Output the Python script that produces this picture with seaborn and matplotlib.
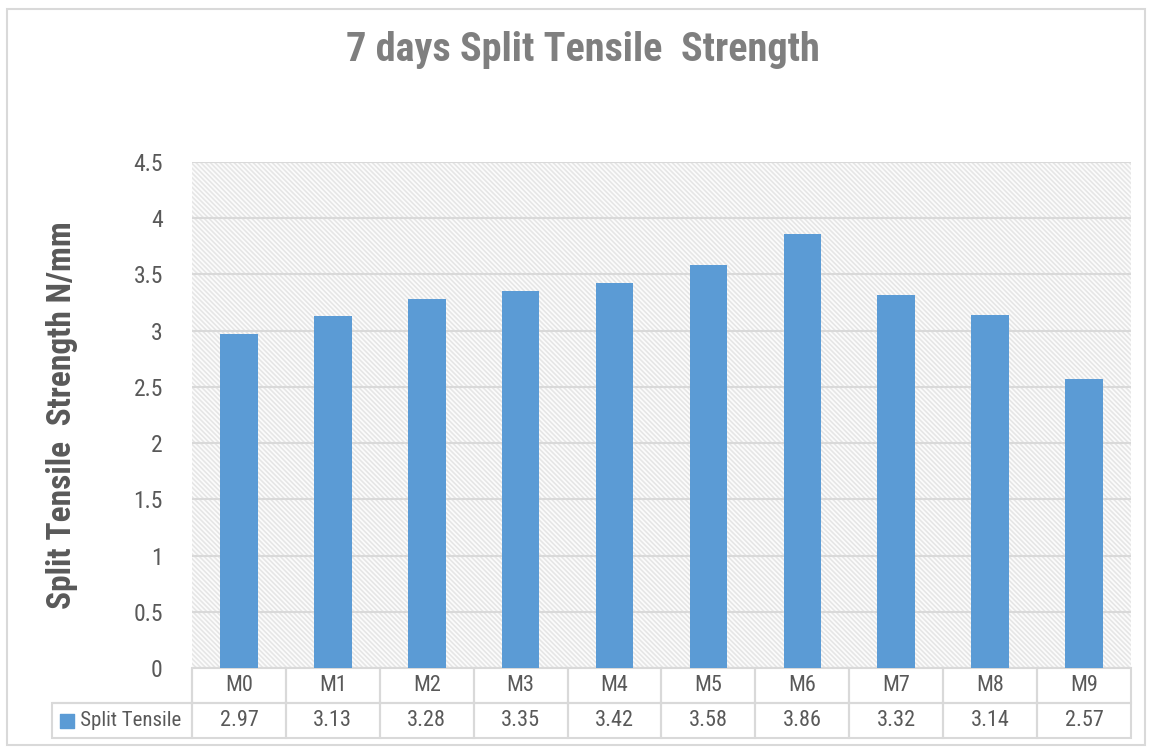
import matplotlib
matplotlib.use("Agg")
import matplotlib.pyplot as plt
from matplotlib import font_manager
from matplotlib.patches import Rectangle
import seaborn as sns

MIXES = ["M0", "M1", "M2", "M3", "M4", "M5", "M6", "M7", "M8", "M9"]
SPLIT_TENSILE = [2.97, 3.13, 3.28, 3.35, 3.42, 3.58, 3.86, 3.32, 3.14, 2.57]
Y_TICKS = [0, 0.5, 1, 1.5, 2, 2.5, 3, 3.5, 4, 4.5]
SERIES_NAME = "Split Tensile"

BAR_BLUE = "#5B9BD5"
TEXT_GRAY = "#595959"
TITLE_GRAY = "#7F7F7F"
LINE_GRAY = "#D9D9D9"

available = {f.name for f in font_manager.fontManager.ttflist}
FONT = next(
    (f for f in ["Liberation Sans Narrow", "Roboto Condensed", "Open Sans", "Liberation Sans"]
     if f in available),
    "DejaVu Sans",
)

sns.set_style("white")
plt.rcParams["font.family"] = [FONT, "DejaVu Sans"]
plt.rcParams["hatch.color"] = "#E6E6E6"
plt.rcParams["hatch.linewidth"] = 1.2

fig = plt.figure(figsize=(11.51, 7.49), dpi=100)
ax = fig.add_axes([192 / 1151, 1 - 668 / 749, 939 / 1151, 506 / 749])

# hatched plot area
ax.add_patch(Rectangle((0, 0), 1, 1, transform=ax.transAxes, facecolor="#FCFCFC",
                       edgecolor="#E6E6E6", hatch="\\\\\\\\\\\\\\", lw=0, zorder=0))

sns.barplot(x=MIXES, y=SPLIT_TENSILE, color=BAR_BLUE, saturation=1, width=0.4,
            edgecolor="none", linewidth=0, ax=ax, zorder=3)

ax.set_ylim(0, 4.5)
ax.set_xlim(-0.5, len(MIXES) - 0.5)
ax.set_yticks(Y_TICKS)
ax.set_yticklabels([f"{t:g}" for t in Y_TICKS])
ax.yaxis.grid(True, color=LINE_GRAY, lw=1.5)
for line in ax.get_ygridlines():
    line.set_zorder(1)
ax.tick_params(axis="y", length=0, pad=21, labelsize=17, labelcolor=TEXT_GRAY)
ax.tick_params(axis="x", bottom=False, labelbottom=False)
for s in ax.spines.values():
    s.set_visible(False)
ax.set_xlabel("")
ax.set_ylabel("Split Tensile  Strength N/mm", fontsize=24, fontweight="bold",
              color=TEXT_GRAY)
ax.yaxis.set_label_coords(-0.1216, 0.5)

fig.text(583 / 1151, 1 - 50 / 749, "7 days Split Tensile  Strength", fontsize=29,
         fontweight="bold", color=TITLE_GRAY, ha="center", va="center")

# data table under the axis
label_w = 140 / 939
row_h = 35 / 506
table = ax.table(
    cellText=[[""] + MIXES, ["   " + SERIES_NAME] + [f"{v:.2f}" for v in SPLIT_TENSILE]],
    cellLoc="center",
    colWidths=[label_w] + [1 / len(MIXES)] * len(MIXES),
    bbox=[-label_w, -2 * row_h, 1 + label_w, 2 * row_h],
)
table.auto_set_font_size(False)
for (r, c), cell in table.get_celld().items():
    cell.set_edgecolor(LINE_GRAY)
    cell.set_linewidth(1.5)
    cell.get_text().set_color(TEXT_GRAY)
    cell.get_text().set_fontsize(16)
    cell.set_facecolor("none")
    if (r, c) == (0, 0):
        cell.visible_edges = "BR"
    if (r, c) == (1, 0):
        cell.get_text().set_ha("left")
        cell.get_text().set_fontsize(15)
        cell._loc = "left"
ax.scatter([-label_w + 15 / 939], [-1.5 * row_h], marker="s", s=95, color=BAR_BLUE,
           transform=ax.transAxes, clip_on=False, zorder=5)

# chart border
fig.add_artist(Rectangle((7 / 1151, 1 - 745 / 749), 1138 / 1151, 736 / 749,
                         transform=fig.transFigure, fill=False,
                         edgecolor=LINE_GRAY, lw=1.5))

fig.savefig("out.png", dpi=100)
